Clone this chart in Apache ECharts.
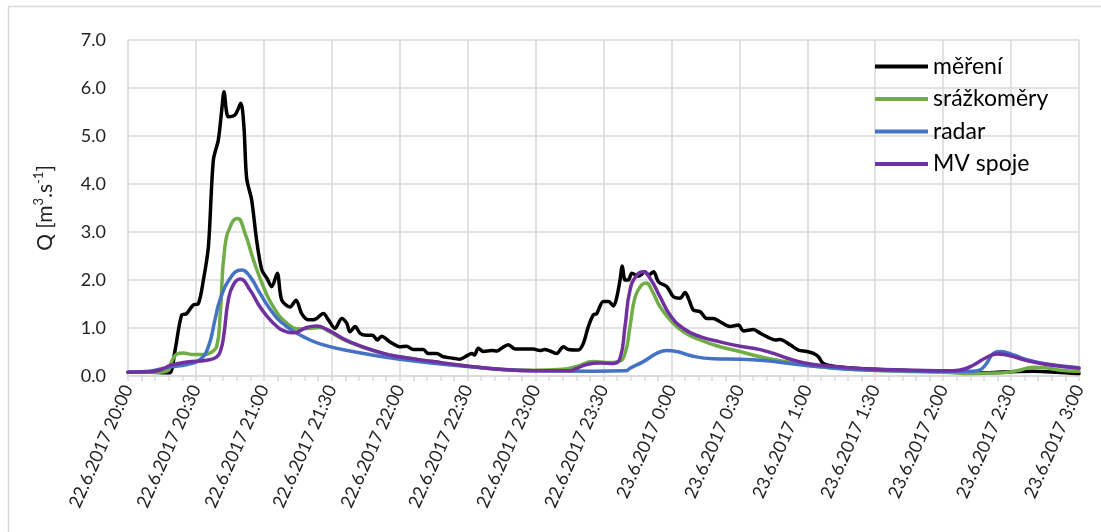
<!DOCTYPE html>
<html>
<head>
<meta charset="utf-8">
<title>Průtok Q – 22./23.6.2017</title>
<script src="https://cdn.jsdelivr.net/npm/echarts@6/dist/echarts.min.js"></script>
<style>
  html, body { margin: 0; padding: 0; background: #ffffff; }
  #chart { width: 1101px; height: 532px; }
</style>
</head>
<body>
<div id="chart"></div>
<script>
// Time is given in minutes after 22.6.2017 20:00; discharge Q in m3/s.
const seriesNames = ['měření', 'srážkoměry', 'radar', 'MV spoje'];

const mereni = [
  [0,0.08],[10,0.08],[17,0.07],[18.6,0.07],[20.8,0.54],[23.7,1.27],[25.9,1.3],[28.8,1.48],[31.1,1.51],
  [33.3,2.0],[35.5,2.69],[37.7,4.5],[39.9,4.92],[41.4,5.54],[42.4,5.92],[44.3,5.4],[47.3,5.44],
  [49.8,5.68],[51.2,5.19],[52.4,4.12],[54.6,3.67],[56.8,2.83],[59.1,2.21],[61.3,2.04],[63.5,1.86],
  [65.9,2.14],[67.9,1.58],[71.6,1.44],[74.2,1.58],[76.7,1.3],[79.6,1.17],[81.8,1.17],[83.3,1.2],
  [86.3,1.3],[88.5,1.17],[91.4,0.99],[94.4,1.2],[96.6,1.1],[98,0.92],[100.3,1.03],[102.5,0.89],
  [105.4,0.85],[108,0.85],[110.1,0.75],[112,0.83],[115.7,0.71],[120,0.61],[123,0.62],[126,0.55],
  [130.4,0.55],[132.6,0.47],[136.3,0.47],[139.3,0.4],[143.7,0.37],[146.6,0.35],[149.6,0.42],
  [151.8,0.47],[153,0.44],[154.7,0.58],[156.9,0.51],[160.6,0.53],[163,0.52],[165,0.58],[168,0.65],
  [171,0.56],[179,0.56],[182,0.53],[184,0.55],[186.4,0.52],[189.3,0.47],[192.3,0.61],[194.5,0.55],
  [198.9,0.54],[201.1,0.68],[203.3,1.03],[205.5,1.27],[207,1.3],[209.9,1.55],[212.2,1.55],
  [214.4,1.46],[215.9,1.65],[217.3,2.0],[218.3,2.29],[219.5,2.0],[221,2.0],[222.5,2.14],[225.4,2.08],
  [228.4,2.17],[229.8,2.1],[232.1,2.17],[234.3,1.96],[238,1.86],[240.9,1.65],[243.8,1.62],[246,1.74],
  [247.5,1.62],[249.7,1.375],[252.7,1.34],[255.6,1.2],[258.5,1.2],[261.5,1.13],[265.9,1.03],
  [269.6,1.06],[271.8,0.94],[276.2,0.97],[279.2,0.89],[282.1,0.82],[285.8,0.75],[288,0.76],
  [292.4,0.65],[296.1,0.54],[299.8,0.51],[302.7,0.47],[304.9,0.4],[307.1,0.26],[312,0.2],[325,0.15],
  [345,0.11],[365,0.08],[380,0.07],[390,0.09],[400,0.1],[410,0.08],[420,0.05]
];

const srazkomery = [
  [0,0.08],[12,0.08],[17,0.1],[20,0.37],[22.2,0.47],[24.4,0.48],[28.1,0.45],[34,0.45],[37,0.5],
  [39.2,0.62],[40.6,1.2],[42.8,2.69],[45.8,3.18],[48.3,3.28],[51.7,2.97],[55.4,2.42],[59.8,1.86],
  [64.2,1.44],[70.1,1.1],[76,0.98],[81.8,1.0],[85,1.01],[88,0.95],[98,0.7],[112.8,0.47],[120,0.4],
  [134.8,0.3],[149.6,0.21],[164.3,0.14],[179,0.12],[192,0.14],[198.2,0.2],[205.5,0.3],[211.4,0.28],
  [216.6,0.3],[219.5,0.47],[221.7,1.03],[224,1.65],[226.9,1.9],[228.8,1.94],[231.3,1.79],[235,1.44],
  [239.4,1.17],[245.3,0.92],[252.7,0.75],[261.5,0.61],[270.3,0.51],[279.2,0.4],[288,0.32],
  [296.8,0.25],[305.6,0.19],[314.5,0.16],[323.3,0.13],[340,0.1],[360,0.08],[373,0.05],[385,0.06],
  [392.5,0.11],[400,0.18],[405,0.17],[412,0.12],[420,0.1]
];

const radar = [
  [0,0.08],[6,0.09],[11,0.11],[18.6,0.19],[26,0.24],[31.8,0.34],[35.5,0.61],[38.4,1.17],[40.6,1.58],
  [45,2.03],[50.2,2.21],[53.9,2.07],[58.3,1.72],[64.2,1.3],[70.1,1.03],[77.4,0.82],[84.8,0.67],
  [98,0.52],[120,0.35],[149.6,0.2],[179,0.11],[205.5,0.1],[220,0.11],[221.7,0.16],[227.6,0.3],
  [233.5,0.47],[238,0.53],[242.3,0.51],[249.7,0.41],[258.5,0.36],[270.3,0.35],[282.1,0.32],
  [293.9,0.25],[305.6,0.19],[323.3,0.13],[340,0.11],[360,0.1],[373,0.1],[376.3,0.13],[379,0.25],
  [382.2,0.47],[385.2,0.51],[391.1,0.44],[397,0.34],[405.8,0.25],[420,0.17]
];

const mvSpoje = [
  [0,0.08],[10,0.09],[15.6,0.15],[18.6,0.22],[26,0.29],[34.8,0.33],[39.2,0.4],[41,0.55],[42.3,0.85],
  [44.3,1.58],[46.5,1.9],[49.5,2.02],[53.9,1.79],[58.3,1.44],[64.2,1.1],[70.1,0.92],[73,0.9],
  [78.9,1.01],[83.3,1.04],[87.8,0.97],[98,0.71],[112.8,0.47],[120,0.4],[134.8,0.3],[149.6,0.21],
  [164.3,0.14],[179,0.11],[195.2,0.11],[198.2,0.16],[202.6,0.24],[208.5,0.27],[214.4,0.26],
  [217.3,0.37],[219.5,1.03],[221.7,1.79],[224.7,2.1],[227.6,2.17],[230.6,2.03],[235,1.65],
  [239.4,1.27],[245.3,0.99],[252.7,0.82],[261.5,0.71],[270.3,0.62],[279.2,0.55],[285.1,0.47],
  [293.9,0.33],[302.7,0.24],[314.5,0.19],[329.2,0.14],[343.9,0.125],[364.5,0.11],[369,0.14],
  [373.4,0.23],[379.3,0.39],[383.7,0.46],[389.6,0.42],[397,0.32],[405.8,0.24],[420,0.16]
];

// Tick labels along the time axis, one every 30 minutes.
const timeLabels = [
  '22.6.2017 20:00','22.6.2017 20:30','22.6.2017 21:00','22.6.2017 21:30','22.6.2017 22:00',
  '22.6.2017 22:30','22.6.2017 23:00','22.6.2017 23:30','23.6.2017 0:00','23.6.2017 0:30',
  '23.6.2017 1:00','23.6.2017 1:30','23.6.2017 2:00','23.6.2017 2:30','23.6.2017 3:00'
];

const colors = ['#000000', '#70ad47', '#4472c4', '#7030a0'];
const FONT = 'Lato, "Open Sans", sans-serif';
const GRID = '#d9d9d9';

const chart = echarts.init(document.getElementById('chart'), null, { renderer: 'canvas' });

function lineSeries(name, data, color, smooth) {
  return {
    name: name,
    type: 'line',
    data: data,
    showSymbol: false,
    symbol: 'none',
    smooth: smooth,
    lineStyle: { color: color, width: 3.5, cap: 'round', join: 'round' },
    itemStyle: { color: color },
    z: 3
  };
}

chart.setOption({
  animation: false,
  backgroundColor: '#ffffff',
  color: colors,
  textStyle: { fontFamily: FONT },
  graphic: [
    { type: 'line', shape: { x1: 8, y1: 6.5, x2: 1101, y2: 6.5 }, style: { stroke: GRID, lineWidth: 1.5 } },
    { type: 'line', shape: { x1: 8.5, y1: 6, x2: 8.5, y2: 532 }, style: { stroke: GRID, lineWidth: 1.5 } }
  ],
  grid: { left: 128, right: 22, top: 40, bottom: 156, containLabel: false },
  legend: {
    orient: 'vertical',
    left: 870,
    top: 50,
    icon: 'rect',
    itemWidth: 53,
    itemHeight: 4,
    itemGap: 9.5,
    data: seriesNames,
    textStyle: { fontFamily: FONT, fontSize: 23, color: '#000000', lineHeight: 20 }
  },
  xAxis: {
    type: 'value',
    min: 0,
    max: 420,
    interval: 30,
    axisLine: { show: true, lineStyle: { color: GRID, width: 1.5 } },
    axisTick: { show: true, length: 5, lineStyle: { color: GRID, width: 1.5 } },
    minorTick: { show: true, splitNumber: 5, length: 5, lineStyle: { color: GRID, width: 1.5 } },
    splitLine: { show: true, lineStyle: { color: GRID, width: 1.5 } },
    axisLabel: {
      rotate: 66,
      margin: 10,
      fontFamily: FONT,
      fontSize: 18,
      color: '#222222',
      formatter: function (v) { return timeLabels[Math.round(v / 30)] || ''; }
    }
  },
  yAxis: {
    type: 'value',
    min: 0,
    max: 7,
    interval: 1,
    axisLine: { show: false },
    axisTick: { show: false },
    splitLine: { show: true, lineStyle: { color: GRID, width: 1.5 } },
    axisLabel: {
      margin: 22,
      fontFamily: FONT,
      fontSize: 18,
      color: '#222222',
      formatter: function (v) { return v.toFixed(1); }
    },
    name: 'Q [m{sup|3}.s{sup|-1}]',
    nameLocation: 'middle',
    nameRotate: 90,
    nameGap: 70,
    nameTextStyle: {
      fontFamily: FONT, fontSize: 21, color: '#222222', lineHeight: 26,
      rich: {
        sup: { fontFamily: FONT, fontSize: 13, color: '#222222', verticalAlign: 'top', lineHeight: 26, padding: [0, 0, 10, 0] }
      }
    }
  },
  series: [
    lineSeries(seriesNames[0], mereni, colors[0], 0.3),
    lineSeries(seriesNames[1], srazkomery, colors[1], 0.5),
    lineSeries(seriesNames[2], radar, colors[2], 0.5),
    lineSeries(seriesNames[3], mvSpoje, colors[3], 0.5)
  ]
});
</script>
</body>
</html>
